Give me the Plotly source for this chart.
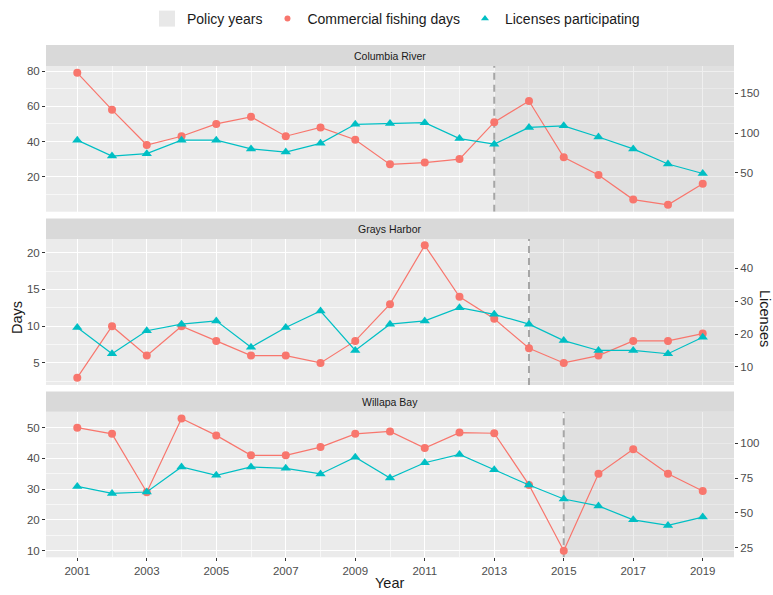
import plotly.graph_objects as go

# ---- data ----
years = list(range(2001, 2020))
regions = ["Columbia River", "Grays Harbor", "Willapa Bay"]
policy_start = [2013, 2014, 2015]

columbia_days = [79, 58, 38, 43, 50, 54, 43, 48, 41, 27, 28, 30, 51, 63, 31, 21, 7, 4, 16]
columbia_licenses = [91, 71, 74, 91, 91, 80, 76, 87, 111, 112, 113, 93, 86, 107, 109, 95, 80, 61, 49]
grays_days = [3, 10, 6, 10, 8, 6, 6, 5, 8, 13, 21, 14, 11, 7, 5, 6, 8, 8, 9]
grays_licenses = [22, 14, 21, 23, 24, 16, 22, 27, 15, 23, 24, 28, 26, 23, 18, 15, 15, 14, 19]
willapa_days = [50, 48, 29, 53, 47.5, 41, 41, 43.7, 48, 48.8, 43.4, 48.4, 48.2, 31.4, 10, 35, 43, 35, 29.4]
willapa_licenses = [69, 64, 65, 83, 77, 83, 82, 78, 90, 75, 86, 92, 81, 70, 60, 55, 45, 41, 47]

days_series = [columbia_days, grays_days, willapa_days]
license_series = [columbia_licenses, grays_licenses, willapa_licenses]

# ---- styling / layout helpers ----
W, H = 773, 595
RED = "#F8766D"
TEAL = "#00BFC4"
PANEL_BG = "#EBEBEB"
TICK_COL = "#4D4D4D"
TITLE_COL = "#1A1A1A"
FONT = "Liberation Sans, Arial, sans-serif"

x_left, x_right = 46, 734
# (strip top, panel top, panel bottom) in pixels
panels_px = [(45, 66, 211.7), (218.5, 239, 385), (391.5, 411.7, 557.3)]
days_ranges = [[0.1, 82.9], [2.0, 21.86], [7.85, 55.2]]
lic_ranges = [[0.9, 184.4], [4.5, 48.9], [18.1, 122.7]]
days_dtick = [20, 5, 10]
lic_dtick = [50, 10, 25]
x_range = [2000.1, 2019.9]
tick_font = dict(size=11.5, color=TICK_COL, family=FONT)


def px_x(p):
    return p / W


def px_y(p):
    return 1 - p / H


fig = go.Figure()
layout = dict(
    width=W, height=H,
    margin=dict(l=0, r=0, t=0, b=0),
    paper_bgcolor="white",
    plot_bgcolor=PANEL_BG,
    font=dict(family=FONT, color=TICK_COL, size=10),
    showlegend=True,
)
shapes = []
annotations = []

for i, region in enumerate(regions):
    xa = "x" if i == 0 else f"x{i + 1}"
    ya = f"y{2 * i + 1}" if i else "y"
    ya2 = f"y{2 * i + 2}"
    xkey = "xaxis" if i == 0 else f"xaxis{i + 1}"
    ykey = "yaxis" if i == 0 else f"yaxis{2 * i + 1}"
    y2key = f"yaxis{2 * i + 2}"
    strip_top, top, bottom = panels_px[i]
    dom_y = [px_y(bottom), px_y(top)]

    is_bottom = i == len(regions) - 1
    layout[xkey] = dict(
        domain=[px_x(x_left), px_x(x_right)], anchor=ya, range=x_range,
        tick0=2001, dtick=2, showgrid=True, gridcolor="white", gridwidth=1.2,
        minor=dict(dtick=1, tick0=2001, showgrid=True, gridcolor="#F7F7F7", gridwidth=0.6),
        showticklabels=is_bottom, ticks="outside" if is_bottom else "",
        ticklen=3, tickcolor="#333333", zeroline=False, showline=False,
        tickfont=tick_font,
    )
    layout[ykey] = dict(
        domain=dom_y, anchor=xa, range=days_ranges[i], tick0=0, dtick=days_dtick[i],
        showgrid=True, gridcolor="white", gridwidth=1.2,
        minor=dict(tick0=0, dtick=days_dtick[i] / 2, showgrid=True, gridcolor="#F7F7F7", gridwidth=0.6),
        ticks="outside", ticklen=3, tickcolor="#333333", zeroline=False,
        tickfont=tick_font,
    )
    layout[y2key] = dict(
        overlaying=ya, side="right", anchor=xa, range=lic_ranges[i],
        tick0=0, dtick=lic_dtick[i], showgrid=False, zeroline=False,
        ticks="outside", ticklen=3, tickcolor="#333333",
        tickfont=tick_font,
    )

    # facet strip
    shapes.append(dict(type="rect", xref="paper", yref="paper",
                       x0=px_x(x_left), x1=px_x(x_right), y0=px_y(top), y1=px_y(strip_top),
                       fillcolor="#D9D9D9", line=dict(width=0), layer="below"))
    annotations.append(dict(text=region, xref="paper", yref="paper",
                            x=(px_x(x_left) + px_x(x_right)) / 2, y=(px_y(top) + px_y(strip_top)) / 2,
                            xanchor="center", yanchor="middle",
                            showarrow=False, font=dict(size=10.5, color=TITLE_COL, family=FONT)))

    # policy-period shading (a filled trace so it sits above the grid, below the data)
    y0, y1 = days_ranges[i]
    fig.add_trace(go.Scatter(
        x=[policy_start[i], x_range[1], x_range[1], policy_start[i], policy_start[i]],
        y=[y0, y0, y1, y1, y0], xaxis=xa, yaxis=ya, mode="lines", fill="toself",
        fillcolor="rgba(190,190,190,0.24)", line=dict(width=0), hoverinfo="skip",
        showlegend=False))
    fig.add_trace(go.Scatter(
        x=[policy_start[i], policy_start[i]], y=[y0, y1], xaxis=xa, yaxis=ya, mode="lines",
        line=dict(color="#A6A6A6", width=2, dash="7px,5px"), hoverinfo="skip", showlegend=False))

    fig.add_trace(go.Scatter(
        x=years, y=days_series[i], xaxis=xa, yaxis=ya, mode="lines+markers",
        line=dict(color=RED, width=1.2), marker=dict(color=RED, size=8, symbol="circle"),
        showlegend=False, name="Commercial fishing days"))
    fig.add_trace(go.Scatter(
        x=years, y=license_series[i], xaxis=xa, yaxis=ya2, mode="lines+markers",
        line=dict(color=TEAL, width=1.2), marker=dict(color=TEAL, size=9, symbol="triangle-up"),
        showlegend=False, name="Licenses participating"))

# legend entries
fig.add_trace(go.Scatter(x=[None], y=[None], mode="markers", name="Policy years",
                         marker=dict(symbol="square", size=16, color="#E8E8E8")))
fig.add_trace(go.Scatter(x=[None], y=[None], mode="markers", name="Commercial fishing days",
                         marker=dict(symbol="circle", size=6, color=RED)))
fig.add_trace(go.Scatter(x=[None], y=[None], mode="markers", name="Licenses participating",
                         marker=dict(symbol="triangle-up", size=7, color=TEAL)))

layout["legend"] = dict(orientation="h", x=px_x(396), xanchor="center", y=px_y(3), yanchor="top",
                        font=dict(size=14, color=TITLE_COL, family=FONT),
                        bgcolor="rgba(0,0,0,0)", itemsizing="trace", itemwidth=30)

# axis titles
annotations.append(dict(text="Days", xref="paper", yref="paper", x=px_x(17), y=px_y(318),
                        xanchor="center", yanchor="middle",
                        textangle=-90, showarrow=False, font=dict(size=14.5, color=TITLE_COL, family=FONT)))
annotations.append(dict(text="Licenses", xref="paper", yref="paper", x=px_x(765), y=px_y(318),
                        xanchor="center", yanchor="middle",
                        textangle=90, showarrow=False, font=dict(size=14.5, color=TITLE_COL, family=FONT)))
annotations.append(dict(text="Year", xref="paper", yref="paper", x=px_x(390), y=px_y(583),
                        xanchor="center", yanchor="middle",
                        showarrow=False, font=dict(size=14.5, color=TITLE_COL, family=FONT)))

layout["shapes"] = shapes
layout["annotations"] = annotations
fig.update_layout(**layout)
fig.write_html("out.html")
